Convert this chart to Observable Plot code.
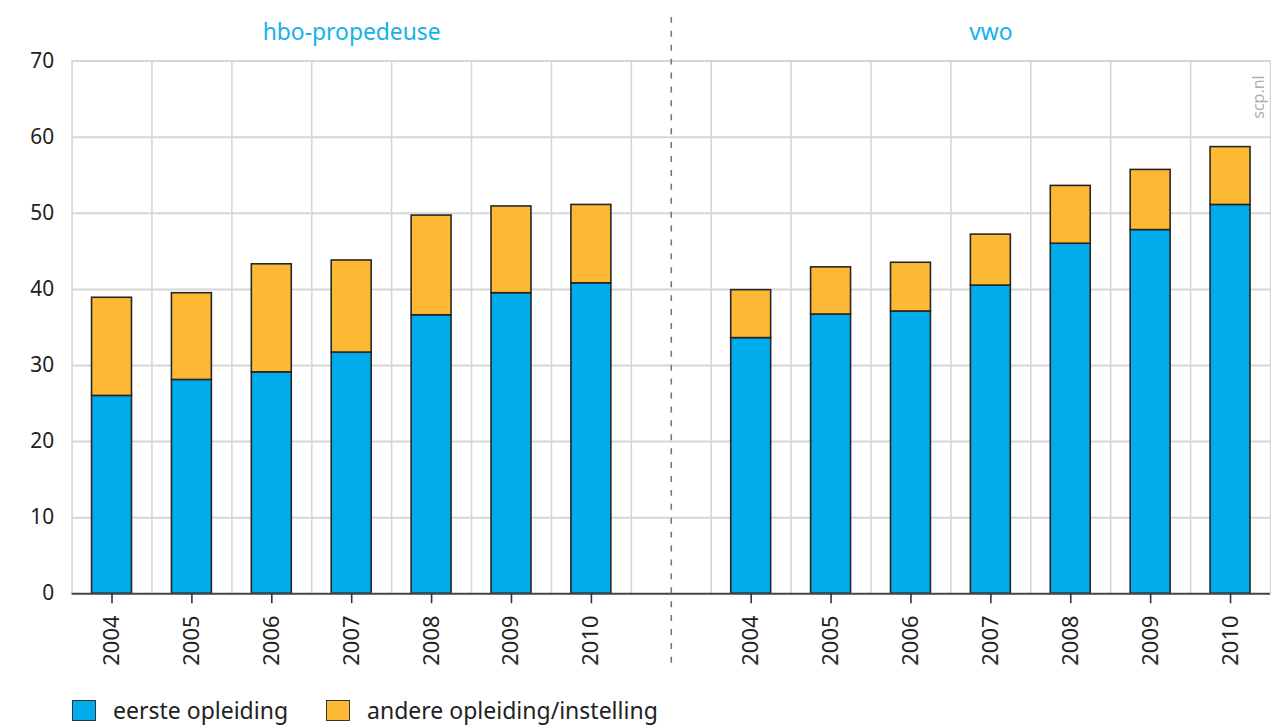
<!DOCTYPE html>
<html>
<head>
<meta charset="utf-8">
<script src="https://cdn.jsdelivr.net/npm/d3@7"></script>
<script src="https://cdn.jsdelivr.net/npm/@observablehq/plot@0.6"></script>
<style>
  html, body { margin: 0; padding: 0; background: #fff; overflow: hidden; width: 1271px; height: 725px; }
  body { font-family: "Noto Sans", sans-serif; color: #222; position: relative; }
  #chart { position: absolute; left: 0; top: 0; }
  #legend { position: absolute; left: 72px; top: 697px; display: flex; align-items: center; font-size: 23px; line-height: 26px; color: #222; }
  .sw { width: 24px; height: 21px; border: 1.5px solid #333; box-sizing: border-box; display: inline-block; }
  .item { display: flex; align-items: center; }
  .lab { margin-left: 17px; }
  #scp { position: absolute; left: 1258px; top: 97px; transform: translate(-50%, -50%) rotate(-90deg); font-size: 16px; line-height: 16px; color: #b0b0b0; white-space: nowrap; }
</style>
</head>
<body>
<div id="chart"></div>
<div id="legend"></div>
<div id="scp">scp.nl</div>
<script>
const years = ["2004", "2005", "2006", "2007", "2008", "2009", "2010"];
const panels = ["hbo-propedeuse", "vwo"];
const series = ["eerste opleiding", "andere opleiding/instelling"];
const colors = ["#00acec", "#fdb933"];
const yTicks = [0, 10, 20, 30, 40, 50, 60, 70];

const hboEerste = [26.0, 28.1, 29.1, 31.7, 36.6, 39.5, 40.8];
const hboAndere = [12.9, 11.4, 14.2, 12.1, 13.1, 11.4, 10.3];
const vwoEerste = [33.6, 36.7, 37.1, 40.5, 46.0, 47.8, 51.1];
const vwoAndere = [6.3, 6.2, 6.4, 6.7, 7.6, 7.9, 7.6];

const eerste = [hboEerste, vwoEerste];
const andere = [hboAndere, vwoAndere];
const slotsPerPanel = years.length + 1;
const nSlots = panels.length * slotsPerPanel - 1;

const rows = [];
panels.forEach((p, pi) => {
  years.forEach((yr, j) => {
    const slot = pi * slotsPerPanel + j;
    const e = eerste[pi][j], a = andere[pi][j];
    rows.push({slot, serie: series[0], y1: 0, y2: e});
    rows.push({slot, serie: series[1], y1: e, y2: e + a});
  });
});

const tickPos = [];
panels.forEach((p, pi) => years.forEach((yr, j) => tickPos.push(pi * slotsPerPanel + j + 0.5)));
const boundaries = d3.range(0, nSlots + 1);
const dividers = panels.slice(1).map((p, i) => (i + 1) * slotsPerPanel - 0.5);
const panelCenters = panels.map((p, pi) => ({name: p, x: pi * slotsPerPanel + years.length / 2}));

const chart = Plot.plot({
  width: 1279,
  height: 690,
  marginLeft: 72,
  marginRight: 1,
  marginTop: 61,
  marginBottom: 93,
  style: {fontFamily: "Noto Sans, sans-serif", color: "#222", background: "transparent", overflow: "visible"},
  x: {domain: [0, nSlots], axis: null},
  y: {domain: [0, 70], axis: null},
  color: {domain: series, range: colors},
  marks: [
    Plot.ruleY(yTicks.filter(d => d > 0), {stroke: "#d6d6d6", strokeWidth: 2}),
    Plot.ruleX(boundaries, {stroke: "#d6d6d6", strokeWidth: 1.6}),
    Plot.rect(rows, {
      x1: d => d.slot + 0.25, x2: d => d.slot + 0.75,
      y1: "y1", y2: "y2", fill: "serie",
      stroke: "#262626", strokeWidth: 1.6
    }),
    Plot.ruleY([0], {stroke: "#444", strokeWidth: 2}),
    Plot.ruleX(dividers, {stroke: "#777", strokeWidth: 1.6, strokeDasharray: "6,8", insetTop: -44, insetBottom: -77}),
    Plot.axisY(yTicks, {tickSize: 0, tickPadding: 18, fontSize: 21, fill: "#222", label: null}),
    Plot.axisX(tickPos, {
      tickFormat: d => years[Math.floor(d) % slotsPerPanel],
      tickRotate: -90, tickSize: 10, tickPadding: 12, fontSize: 22,
      stroke: "#333", strokeWidth: 1.6, fill: "#222", label: null
    }),
    Plot.text(panelCenters, {x: "x", y: () => 70, text: "name", dy: -29, fontSize: 23, fill: "#14b2ea", textAnchor: "middle"})
  ]
});
document.getElementById("chart").appendChild(chart);

const legend = document.getElementById("legend");
series.forEach((s, i) => {
  const it = document.createElement("div");
  it.className = "item";
  if (i > 0) it.style.marginLeft = "38px";
  it.innerHTML = `<span class="sw" style="background:${colors[i]}"></span><span class="lab">${s}</span>`;
  legend.appendChild(it);
});
</script>
</body>
</html>
